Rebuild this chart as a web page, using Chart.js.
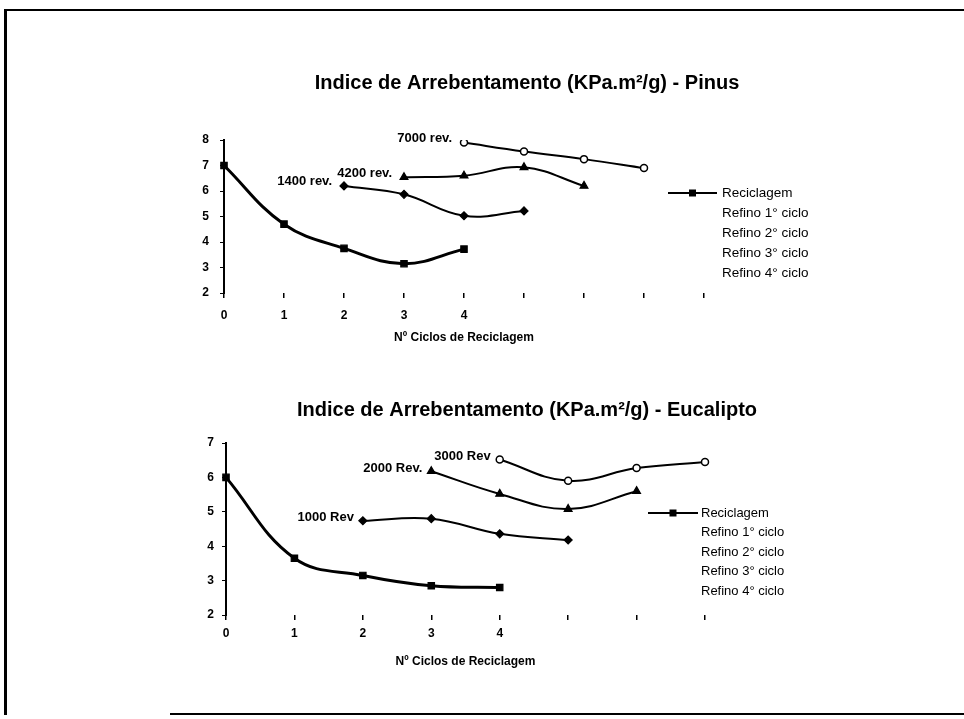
<!DOCTYPE html>
<html><head><meta charset="utf-8">
<script src="https://cdn.jsdelivr.net/npm/chart.js@4/dist/chart.umd.min.js"></script>
<style>
html,body{margin:0;padding:0;background:#fff;overflow:hidden;width:964px;height:719px;}
#frame{position:absolute;left:4px;top:9px;width:990px;height:704px;border-left:3px solid #000;border-top:2px solid #000;}
#bottomline{position:absolute;left:170px;top:713px;width:800px;height:0;border-top:2px solid #000;}
.wrap{position:absolute;left:90px;width:874px;}
canvas{display:block;}
</style></head><body>
<div id="frame"></div><div id="bottomline"></div>
<div class="wrap" style="top:0;height:360px"><canvas id="c1" width="874" height="360"></canvas></div>
<div class="wrap" style="top:360px;height:359px"><canvas id="c2" width="874" height="359"></canvas></div>
<script>
const FONT = "'Liberation Sans', Arial, sans-serif";

// ---------- data ----------
const seriesNames = ['Reciclagem', 'Refino 1° ciclo', 'Refino 2° ciclo', 'Refino 3° ciclo', 'Refino 4° ciclo'];
const xAxisTitle = 'Nº Ciclos de Reciclagem';

const titlePinus = 'Indice de Arrebentamento (KPa.m²/g) - Pinus';
const categoriesPinus = ['0', '1', '2', '3', '4', '', '', '', ''];
const pinusReciclagem = [7.0, 4.7, 3.75, 3.15, 3.72, null, null, null, null];
const pinusRefino1 = [null, null, 6.2, 5.87, 5.03, 5.22, null, null, null];
const pinusRefino2 = [null, null, null, 6.54, 6.6, 6.93, 6.2, null, null];
const pinusRefino3 = [null, null, null, null, 7.9, 7.55, 7.25, 6.9, null];
const pinusRefino4 = [null, null, null, null, null, null, null, null, null];
const pinusNotes = ['1400 rev.', '4200 rev.', '7000 rev.'];
const pinusYTicks = [2, 8];

const titleEuc = 'Indice de Arrebentamento (KPa.m²/g) - Eucalipto';
const categoriesEuc = ['0', '1', '2', '3', '4', '', '', ''];
const eucReciclagem = [6.0, 3.65, 3.15, 2.85, 2.8, null, null, null];
const eucRefino1 = [null, null, 4.74, 4.8, 4.36, 4.18, null, null];
const eucRefino2 = [null, null, null, 6.18, 5.52, 5.08, 5.6, null];
const eucRefino3 = [null, null, null, null, 6.52, 5.9, 6.27, 6.45];
const eucRefino4 = [null, null, null, null, null, null, null, null];
const eucNotes = ['1000 Rev', '2000 Rev.', '3000 Rev'];
const eucYTicks = [2, 7];

// ---------- plugin for legend + series notes ----------
const pageText = {
  id: 'pageText',
  afterDatasetsDraw(chart, args, o) {
    const ctx = chart.ctx, ca = chart.chartArea;
    ctx.save();
    ctx.fillStyle = '#000';
    ctx.textBaseline = 'middle';
    ctx.font = `bold ${o.noteSize}px ${FONT}`;
    ctx.textAlign = 'right';
    chart.data.datasets.forEach((ds, i) => {
      if (!ds.note) return;
      const meta = chart.getDatasetMeta(i);
      const idx = ds.data.findIndex(v => v !== null);
      const pt = meta.data[idx];
      if (pt) ctx.fillText(ds.note, pt.x + o.noteDx, pt.y + o.noteDy);
    });
    ctx.font = `${o.legSize}px ${FONT}`;
    ctx.textAlign = 'left';
    chart.data.datasets.forEach((ds, i) => {
      const y = ca.top + o.legTop + i * o.legRow;
      const x0 = ca.right + o.legLeft;
      if (ds.legendSample) {
        ctx.strokeStyle = '#000'; ctx.lineWidth = 2;
        ctx.beginPath(); ctx.moveTo(x0, y); ctx.lineTo(x0 + o.legLine, y); ctx.stroke();
        ctx.fillRect(x0 + o.legLine / 2 - 3.5, y - 3.5, 7, 7);
      }
      ctx.fillText(ds.label, x0 + o.legLine + o.legGap, y);
    });
    ctx.restore();
  }
};

function makeDatasets(d, notes) {
  const base = {borderColor: '#000', borderWidth: 2, tension: 0.4, spanGaps: false, pointBorderColor: '#000', pointBorderWidth: 1.2};
  return [
    Object.assign({}, base, {label: seriesNames[0], data: d[0], borderWidth: 3, pointStyle: 'rect', pointRadius: 4.5, pointBackgroundColor: '#000', legendSample: true}),
    Object.assign({}, base, {label: seriesNames[1], data: d[1], pointStyle: 'rectRot', pointRadius: 4, pointBackgroundColor: '#000', note: notes[0]}),
    Object.assign({}, base, {label: seriesNames[2], data: d[2], pointStyle: 'triangle', pointRadius: 4.5, pointBackgroundColor: '#000', note: notes[1]}),
    Object.assign({}, base, {label: seriesNames[3], data: d[3], pointStyle: 'circle', pointRadius: 3.5, pointBackgroundColor: '#fff', pointBorderWidth: 1.5, note: notes[2]}),
    Object.assign({}, base, {label: seriesNames[4], data: d[4], pointStyle: 'circle', pointRadius: 3, pointBackgroundColor: '#fff'})
  ];
}

function makeChart(id, cfg) {
  return new Chart(document.getElementById(id), {
    type: 'line',
    data: {labels: cfg.labels, datasets: makeDatasets(cfg.data, cfg.notes)},
    plugins: [pageText],
    options: {
      responsive: false, animation: false, devicePixelRatio: 1,
      layout: {padding: {top: 0, left: 0, right: 0, bottom: cfg.padBottom}},
      plugins: {
        legend: {display: false},
        tooltip: {enabled: false},
        title: {display: true, text: cfg.title, color: '#000', font: {family: FONT, size: cfg.titleSize, weight: 'bold', lineHeight: 1.2}, padding: {top: cfg.titleTop, bottom: cfg.titleBottom}},
        pageText: cfg.text
      },
      scales: {
        x: {
          type: 'category', offset: false,
          grid: {display: true, drawOnChartArea: false, drawTicks: true, tickLength: 5, color: '#000', lineWidth: 1.5},
          border: {display: false},
          ticks: {color: '#000', font: {family: FONT, size: 12, weight: 'bold'}, padding: cfg.xPad, maxRotation: 0, autoSkip: false},
          title: {display: true, text: xAxisTitle, color: '#000', font: {family: FONT, size: 12, weight: 'bold', lineHeight: 1.2}, padding: 0},
          afterFit: s => { s.height = cfg.xH; }
        },
        y: {
          type: 'linear', position: 'left', min: cfg.yTicks[0], max: cfg.yTicks[1],
          ticks: {stepSize: 1, color: '#000', font: {family: FONT, size: 12, weight: 'bold'}, padding: cfg.yPad},
          grid: {display: true, drawOnChartArea: false, drawTicks: true, tickLength: 4, color: '#000', lineWidth: 1},
          border: {display: true, color: '#000', width: 2},
          afterFit: s => { s.width = cfg.yW; }
        },
        yR: {
          type: 'linear', position: 'right', display: true,
          grid: {display: false}, border: {display: false}, ticks: {display: false},
          afterFit: s => { s.width = cfg.rW; }
        }
      }
    }
  });
}

makeChart('c1', {
  labels: categoriesPinus,
  data: [pinusReciclagem, pinusRefino1, pinusRefino2, pinusRefino3, pinusRefino4],
  notes: pinusNotes, yTicks: pinusYTicks, title: titlePinus,
  titleSize: 20, titleTop: 71, titleBottom: 45, padBottom: 15,
  xH: 52, xPad: 10, yW: 134, yPad: 11, rW: 260,
  text: {noteSize: 13, noteDx: -12, noteDy: -4, legSize: 13.5, legTop: 53, legRow: 20, legLeft: -36, legLine: 49, legGap: 5}
});

makeChart('c2', {
  labels: categoriesEuc,
  data: [eucReciclagem, eucRefino1, eucRefino2, eucRefino3, eucRefino4],
  notes: eucNotes, yTicks: eucYTicks, title: titleEuc,
  titleSize: 20, titleTop: 38, titleBottom: 21, padBottom: 50,
  xH: 54, xPad: 6, yW: 136, yPad: 8, rW: 259,
  text: {noteSize: 13, noteDx: -9, noteDy: -3, legSize: 13, legTop: 70, legRow: 19.6, legLeft: -57, legLine: 50, legGap: 3}
});
</script>
</body></html>
